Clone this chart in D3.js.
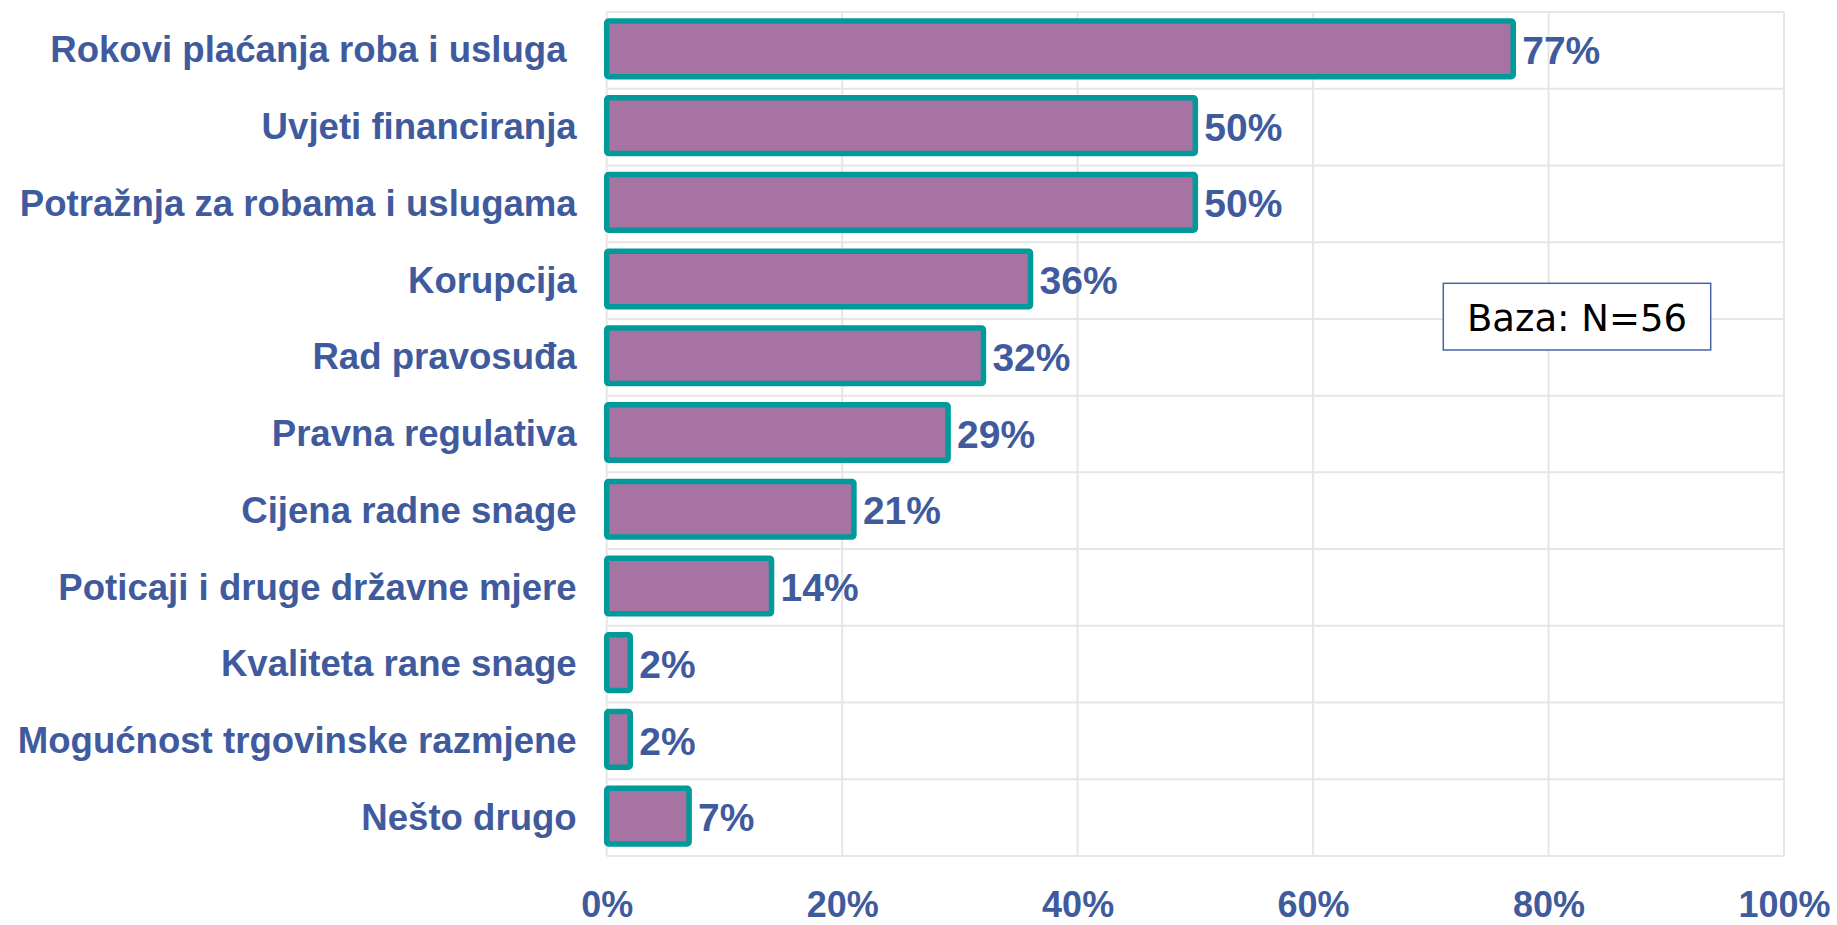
<!DOCTYPE html>
<html>
<head>
<meta charset="utf-8">
<title>Bar chart</title>
<script src="https://d3js.org/d3.v7.min.js"></script>
<style>
  body { margin: 0; background: #fff; }
  .cat text { white-space: pre; }
</style>
</head>
<body>
<script>
var categories = ["Rokovi plaćanja roba i usluga ", "Uvjeti financiranja", "Potražnja za robama i uslugama",
  "Korupcija", "Rad pravosuđa", "Pravna regulativa", "Cijena radne snage",
  "Poticaji i druge državne mjere", "Kvaliteta rane snage", "Mogućnost trgovinske razmjene", "Nešto drugo"];
var values = [77, 50, 50, 36, 32, 29, 21, 14, 2, 2, 7];
var xTicks = [0, 20, 40, 60, 80, 100];
var note = "Baza: N=56";

var w = 1837, h = 925;
// plot area (don't use "top" - clashes with window.top)
var pLeft = 606.7, pRight = 1784, pTop = 12, pBottom = 856;
var blue = "#3F5B9E";

var svg = d3.select("body").append("svg")
  .attr("width", w)
  .attr("height", h);

var x = d3.scaleLinear().domain([0, 100]).range([pLeft, pRight]);
var y = d3.scaleBand().domain(categories).range([pTop, pBottom]);

// grid
svg.append("g").selectAll("line.v")
  .data(xTicks)
  .enter().append("line")
  .attr("x1", function(d){ return x(d); })
  .attr("x2", function(d){ return x(d); })
  .attr("y1", pTop).attr("y2", pBottom)
  .attr("stroke", "#E6E6E6").attr("stroke-width", 2);

var hLines = categories.map(function(c){ return y(c); }).concat([pBottom]);
svg.append("g").selectAll("line.h")
  .data(hLines)
  .enter().append("line")
  .attr("x1", pLeft).attr("x2", pRight)
  .attr("y1", function(d){ return d; })
  .attr("y2", function(d){ return d; })
  .attr("stroke", "#E6E6E6").attr("stroke-width", 2);

// bars
var barH = y.bandwidth() * 0.725;
svg.append("g").selectAll("rect")
  .data(values)
  .enter().append("rect")
  .attr("x", x(0))
  .attr("y", function(d, i){ return y(categories[i]) + (y.bandwidth() - barH) / 2 - 1.5; })
  .attr("width", function(d){ return x(d) - x(0); })
  .attr("height", barH)
  .attr("rx", 2)
  .attr("fill", "#A673A3")
  .attr("stroke", "#009A9A")
  .attr("stroke-width", 5.5);

// value labels
svg.append("g").selectAll("text")
  .data(values)
  .enter().append("text")
  .attr("x", function(d){ return x(d) + 9; })
  .attr("y", function(d, i){ return y(categories[i]) + y.bandwidth() / 2; })
  .attr("dy", "0.35em")
  .attr("font-family", "Liberation Sans, Arial, sans-serif")
  .attr("font-weight", "bold")
  .attr("font-size", 39)
  .attr("fill", blue)
  .text(function(d){ return d + "%"; });

// category axis
var yAxis = d3.axisLeft(y).tickSize(0).tickPadding(30);
var gY = svg.append("g")
  .attr("class", "cat")
  .attr("transform", "translate(" + pLeft + ",0)")
  .call(yAxis);
gY.select(".domain").remove();
gY.selectAll("text")
  .attr("font-family", "Liberation Sans, Arial, sans-serif")
  .attr("font-weight", "bold")
  .attr("font-size", 36.6)
  .attr("fill", blue)
  .attr("dy", "0.33em");

// x axis
var xAxis = d3.axisBottom(x).tickValues(xTicks).tickSize(0).tickFormat(function(d){ return d + "%"; });
var gX = svg.append("g")
  .attr("transform", "translate(0," + pBottom + ")")
  .call(xAxis);
gX.select(".domain").remove();
gX.selectAll("text")
  .attr("font-family", "Liberation Sans, Arial, sans-serif")
  .attr("font-weight", "bold")
  .attr("font-size", 36)
  .attr("fill", blue)
  .attr("y", 0)
  .attr("dy", 61);

// base note
var noteG = svg.append("g");
noteG.append("rect")
  .attr("x", 1443.3).attr("y", 283.3)
  .attr("width", 267.4).attr("height", 66.7)
  .attr("fill", "#fff")
  .attr("stroke", "#4264A6")
  .attr("stroke-width", 1.5);
noteG.append("text")
  .attr("x", 1577).attr("y", 317)
  .attr("dy", "0.37em")
  .attr("text-anchor", "middle")
  .attr("font-family", "DejaVu Sans, Verdana, sans-serif")
  .attr("font-size", 37)
  .attr("fill", "#000")
  .text(note);
</script>
</body>
</html>
